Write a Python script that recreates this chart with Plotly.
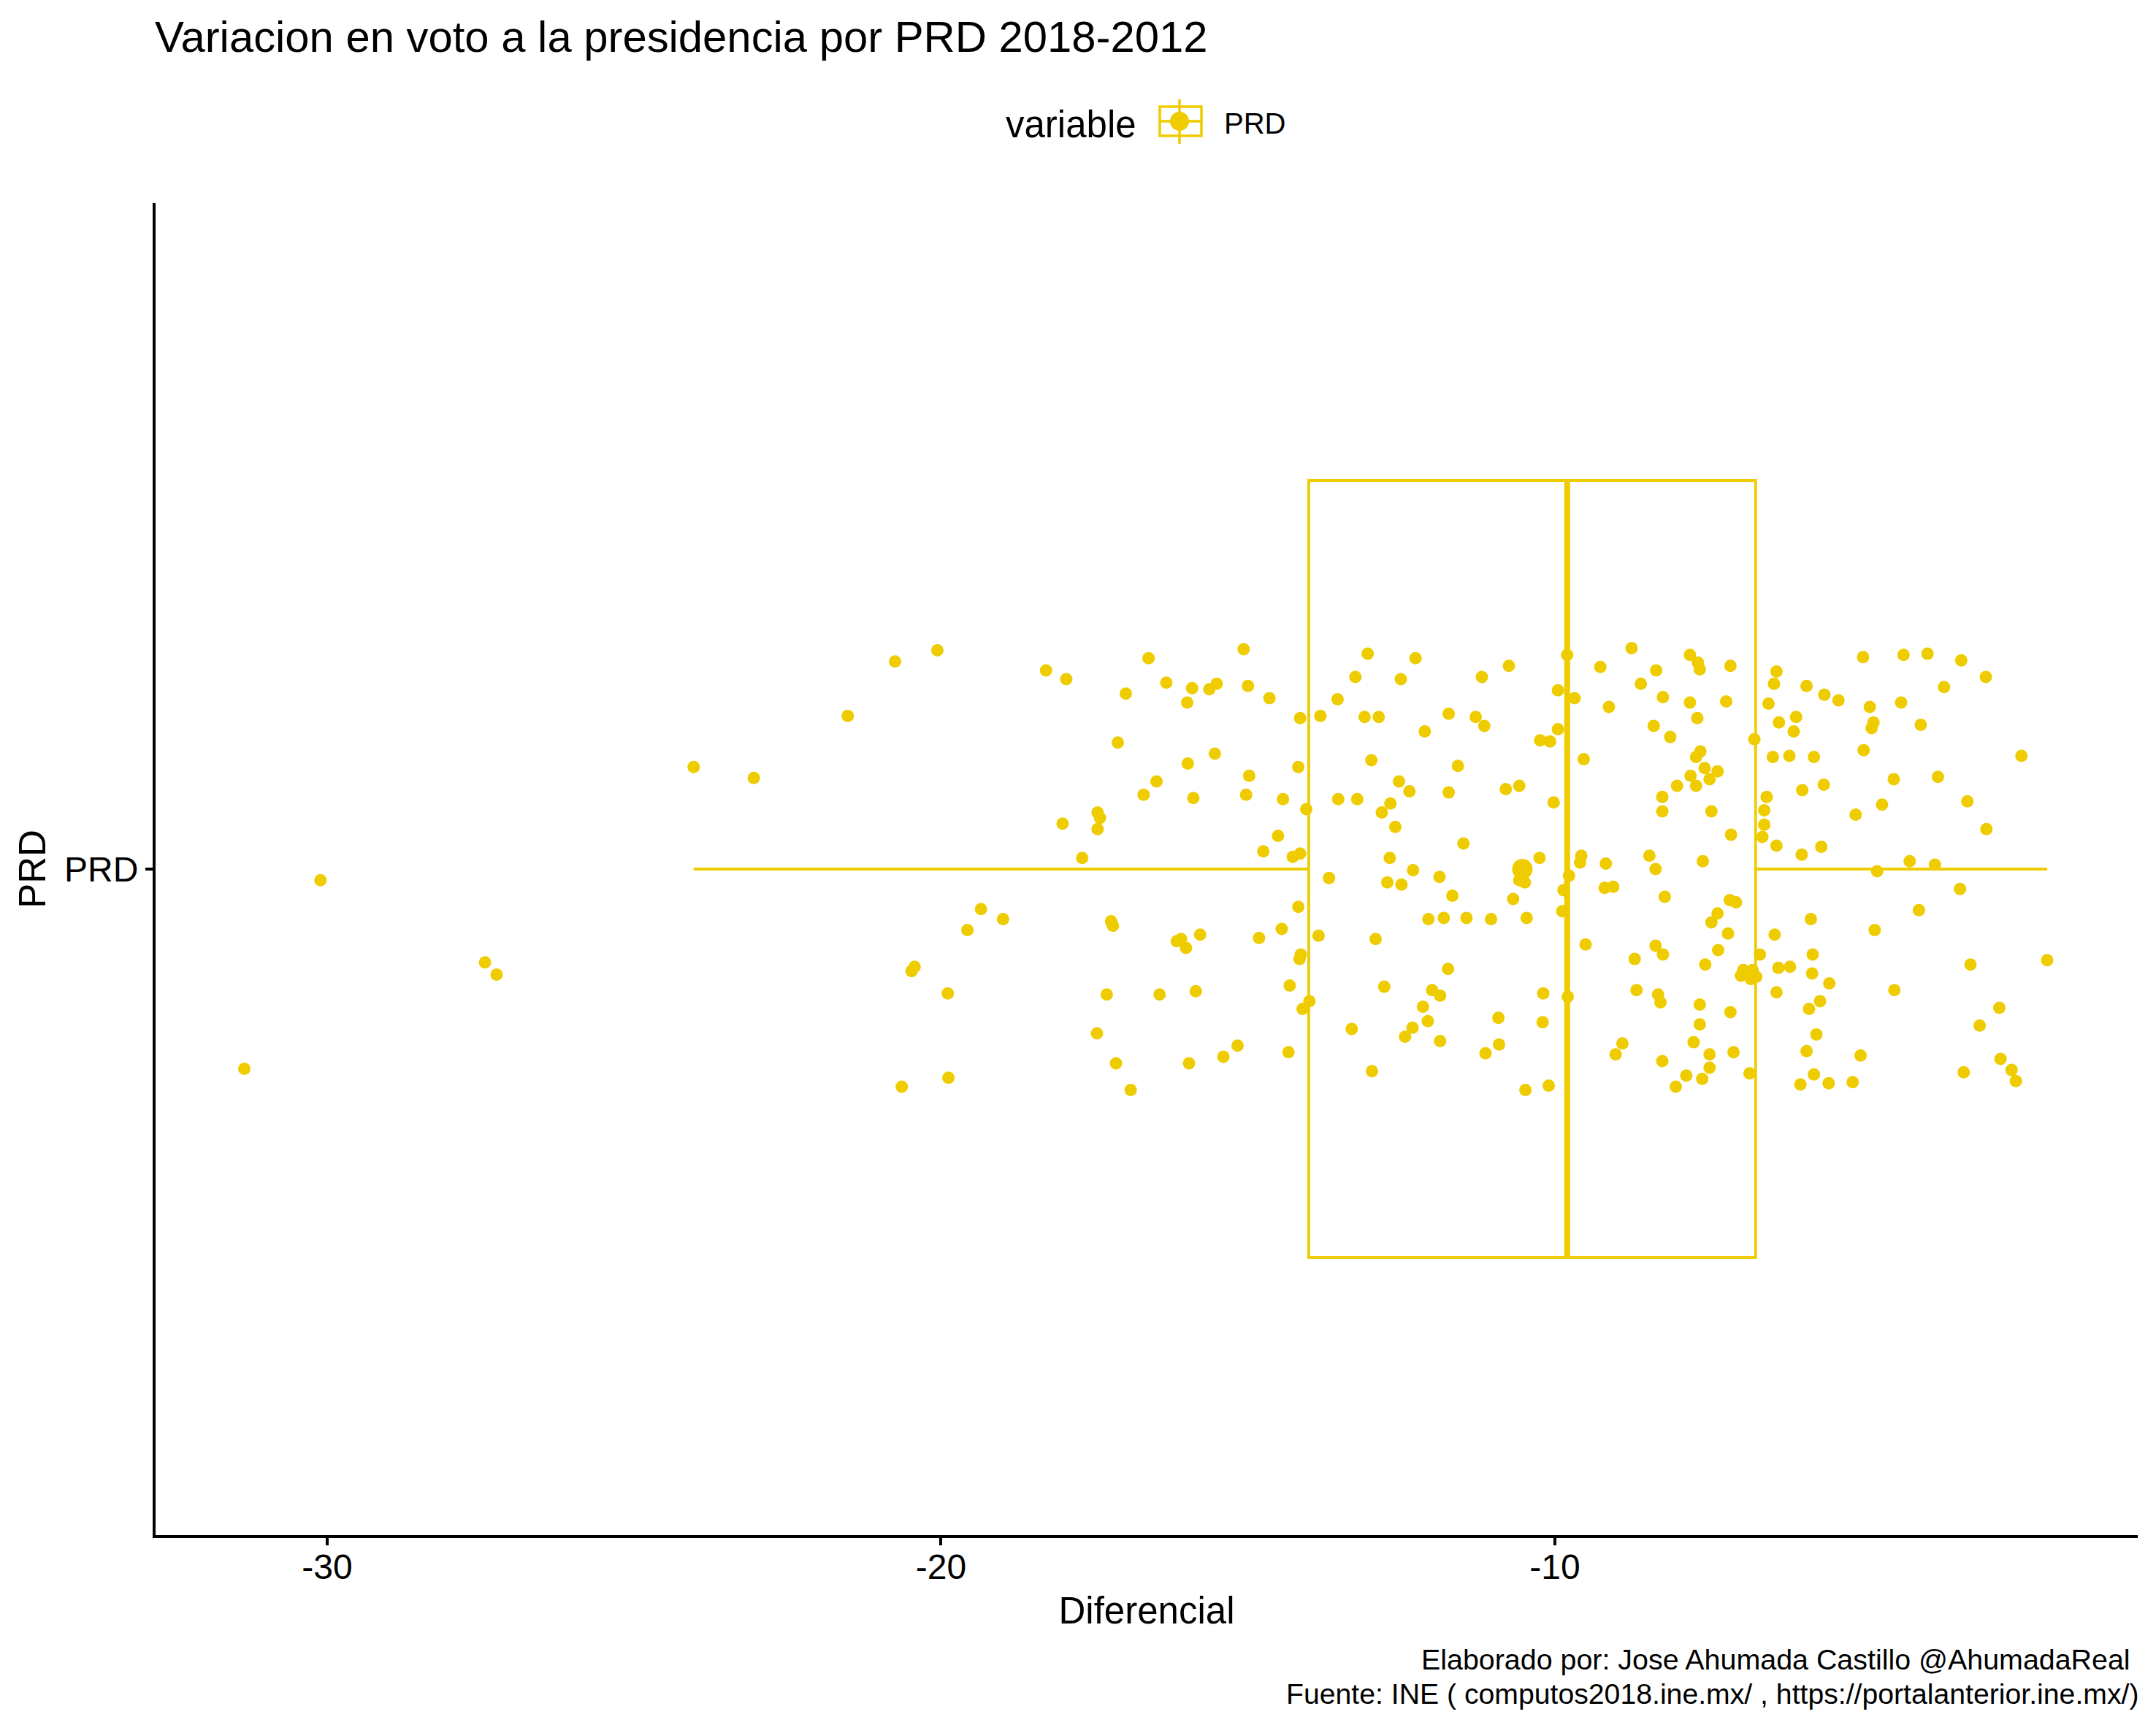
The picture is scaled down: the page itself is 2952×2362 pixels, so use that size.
import plotly.graph_objects as go

COLOR = "#EECC00"
TITLE = "Variacion en voto a la presidencia por PRD 2018-2012"
CAP1 = "Elaborado por: Jose Ahumada Castillo @AhumadaReal"
CAP2 = "Fuente: INE ( computos2018.ine.mx/ , https://portalanterior.ine.mx/)"

x_ticks = [-30, -20, -10]
x_tick_labels = ["-30", "-20", "-10"]
category = ["PRD"]

box_low, box_q1, box_median, box_q3, box_high = -24.03, -14.01, -9.80, -6.73, -1.98
mean_value = -10.53

diferencial = [
-20.75,-21.52,-24.03,-23.05,-30.11,-27.43,-27.24,-31.35,-20.64,
-20.06,-18.29,-17.96,-16.62,-15.07,-13.05,-12.27,-10.75,-16.33,-15.91,-15.63,-15.51,-15.00,-16.99,-15.99,-14.65,
-13.25,-12.51,-11.19,-13.54,-14.15,-13.82,-13.10,-12.87,-11.73,-11.29,-11.15,-12.12,-17.12,-15.54,-15.98,-14.18,
-12.99,-11.58,-14.98,-16.49,-12.54,-12.37,-11.73,-10.80,-10.58,-16.70,-15.89,-15.03,-14.43,-13.53,-13.22,-12.68,
-12.82,-14.05,-17.45,-17.41,-18.02,-17.45,-12.60,-14.51,-11.49,-14.75,-14.15,-14.27,-17.70,-12.69,-12.31,-13.68,
-11.88,-12.73,-12.50,-11.67,-10.68,-10.58,-10.49,-14.18,-19.35,-18.99,-19.57,-17.23,-17.20,-12.06,-11.81,-11.44,
-11.04,-10.46,-14.45,-16.16,-16.09,-16.01,-15.78,-14.82,-13.85,-12.92,-14.14,-14.16,-11.74,-20.43,-20.48,-19.89,
-17.30,-16.44,-15.85,-14.32,-12.78,-12.00,-11.87,-12.15,-14.00,-14.11,-12.07,-10.92,-13.31,-12.32,-12.44,-17.46,
-11.87,-10.91,-11.13,-15.17,-15.40,-14.34,-17.15,-15.96,-12.98,-19.88,-16.91,-10.48,
-8.75,-7.80,-7.67,-7.64,-7.14,-9.80,-9.26,-8.35,-6.39,-4.98,-4.32,-3.93,-3.38,-2.98,-3.66,-8.60,-6.43,-5.90,-9.95,
-9.68,-8.24,-5.61,-9.12,-7.80,-7.21,-6.52,-5.38,-4.87,-4.36,-7.68,-6.07,-8.39,-6.35,-4.81,-4.84,-4.04,-9.95,-6.11,
-10.24,-10.08,-8.12,-6.75,-7.63,-7.70,-9.53,-6.45,-6.18,-5.78,-4.97,-2.40,-7.56,-7.35,-7.79,-7.48,-8.01,-7.70,-4.48,
-3.76,-5.62,-5.97,-10.02,-8.25,-6.55,-3.28,-8.25,-7.45,-6.59,-4.67,-5.10,-6.59,-2.97,-7.13,-6.62,-6.39,-5.66,-5.98,
-10.25,-9.57,-9.59,-8.46,-9.17,-7.59,-4.22,-3.81,-4.75,-8.36,-9.77,-9.86,-9.19,-9.05,-8.21,-3.40,-7.15,-7.05,-9.88,
-7.35,-7.45,-5.83,-4.07,-4.79,-7.18,-6.42,-9.50,-8.36,-8.24,-7.34,-6.66,-5.80,-8.70,-7.55,-6.36,-6.17,-3.23,-1.98,
-6.93,-6.97,-6.78,-6.81,-6.72,-6.86,-5.81,-5.53,-6.39,-4.47,-8.67,-8.32,-8.28,-9.79,-10.19,-7.64,-5.68,-5.86,-7.14,
-2.76,-10.20,-7.64,-3.08,-5.74,-8.90,-7.74,-5.90,-9.01,-7.48,-7.09,-5.02,-2.74,-8.25,-7.48,-2.56,-3.34,-7.86,-7.60,
-6.83,-5.78,-6.00,-5.54,-5.15,-2.49,-8.03,-10.10,
]
jitter = [
.187,.138,.092,.082,-.010,-.084,-.095,-.180,-.196,
.197,.179,.171,.190,.198,.194,.190,.183,.168,.163,.162,.167,.165,.158,.150,.154,
.173,.171,.173,.153,.136,.138,.137,.137,.140,.137,.129,.124,.114,.104,.095,.092,
.098,.093,.084,.079,.079,.070,.069,.072,.075,.067,.064,.067,.063,.063,.063,.059,
.051,.054,.051,.046,.041,.036,.038,.030,.023,.016,.014,.011,.010,.010,-.001,-.008,
-.007,-.012,-.014,-.024,-.027,-.010,-.012,-.034,-.036,-.045,-.055,-.047,-.051,-.045,-.044,-.044,
-.045,-.044,-.054,-.065,-.063,-.071,-.059,-.062,-.060,-.063,-.077,-.081,-.090,-.088,-.092,-.112,
-.113,-.113,-.110,-.105,-.106,-.109,-.114,-.124,-.119,-.126,-.137,-.134,-.144,-.143,-.151,-.148,
-.155,-.158,-.166,-.159,-.169,-.165,-.175,-.175,-.182,-.188,-.199,-.199,
.199,.193,.186,.180,.183,.193,.182,.179,.178,.191,.193,.194,.188,.173,.164,.167,.167,.165,.161,
.154,.155,.157,.146,.150,.151,.149,.152,.146,.150,.136,.137,.129,.132,.132,.127,.130,.126,.124,
.116,.115,.119,.117,.106,.101,.099,.101,.102,.101,.107,.102,.091,.088,.084,.081,.075,.075,.081,
.083,.076,.071,.060,.065,.065,.061,.052,.052,.053,.058,.049,.040,.036,.031,.029,.021,.020,.013,
.010,.012,.006,.012,.005,.007,.007,.004,-.002,.000,-.006,-.019,-.017,-.016,-.025,-.018,-.028,-.030,-.038,
-.040,-.048,-.045,-.037,-.055,-.058,-.059,-.068,-.069,-.077,-.073,-.077,-.077,-.081,-.086,-.089,-.088,-.086,-.082,
-.091,-.096,-.091,-.099,-.097,-.095,-.094,-.103,-.111,-.109,-.109,-.113,-.120,-.115,-.112,-.122,-.119,-.126,-.129,
-.125,-.138,-.140,-.141,-.149,-.157,-.156,-.164,-.167,-.167,-.165,-.168,-.171,-.173,-.179,-.181,-.183,-.186,-.189,
-.184,-.185,-.194,-.193,-.192,-.191,-.196,-.195,
]

# the page adds an 8 px body margin round the figure
OFF = 8
W, H = 2952 - OFF, 2362 - OFF
L, R, T, B = 213 - OFF, 2927 - OFF, 278 - OFF, 2102 - OFF
def px(x): return (x - OFF - L) / (R - L)
def py(y): return (B - (y - OFF)) / (B - T)

fig = go.Figure()
fig.add_trace(go.Box(
    y=[1], q1=[box_q1], median=[box_median], q3=[box_q3],
    lowerfence=[box_low], upperfence=[box_high], orientation="h", width=0.7,
    line=dict(color=COLOR, width=3.8), fillcolor="rgba(0,0,0,0)",
    whiskerwidth=0, boxpoints=False, showlegend=False, name="PRD"))
fig.add_trace(go.Scatter(
    x=[box_median, box_median], y=[0.65, 1.35], mode="lines",
    line=dict(color=COLOR, width=8), showlegend=False, hoverinfo="skip"))
fig.add_trace(go.Scatter(
    x=diferencial, y=[1 + j for j in jitter], mode="markers",
    marker=dict(color=COLOR, size=17, line=dict(width=0)), showlegend=False, name="PRD"))
fig.add_trace(go.Scatter(
    x=[mean_value], y=[1], mode="markers",
    marker=dict(color=COLOR, size=28, line=dict(width=0)), showlegend=False, name="media"))

FONT = "Liberation Sans"
def text(s, x, y, size, xanchor="left", angle=0):
    fig.add_annotation(text=s, x=px(x), y=py(y), xref="paper", yref="paper", showarrow=False,
                       xanchor=xanchor, yanchor="middle", textangle=angle,
                       font=dict(family=FONT, size=size, color="black"))

text(TITLE, 210, 50, 59.8)
text("variable", 1375, 170, 51)
text("PRD", 1674, 169, 40)
text(CAP1, 2919, 2272, 39.4, "right")
text(CAP2, 2930, 2319, 39.2, "right")

# legend key
shapes = [
    dict(type="rect", x0=px(1588), x1=px(1645), y0=py(146), y1=py(186)),
    dict(type="line", x0=px(1588), x1=px(1645), y0=py(166), y1=py(166)),
    dict(type="line", x0=px(1615), x1=px(1615), y0=py(136), y1=py(197)),
]
for s in shapes:
    s.update(xref="paper", yref="paper", line=dict(color=COLOR, width=3.5))
shapes.append(dict(type="circle", xref="paper", yref="paper",
                   x0=px(1602), x1=px(1628), y0=py(153), y1=py(179),
                   fillcolor=COLOR, line=dict(color=COLOR, width=0)))

fig.update_layout(
    width=W, height=H, autosize=False,
    margin=dict(l=L, r=W - R, t=T, b=H - B, pad=0),
    paper_bgcolor="white", plot_bgcolor="white", showlegend=False, shapes=shapes,
    font=dict(family=FONT, color="black"),
    xaxis=dict(range=[-32.796, -0.505], tickvals=x_ticks, ticktext=x_tick_labels,
               showgrid=False, zeroline=False, showline=True, linecolor="black", linewidth=4,
               ticks="outside", ticklen=10, tickwidth=4, tickcolor="black", ticklabelstandoff=-12,
               tickfont=dict(family=FONT, size=48, color="black"),
               title=dict(text="Diferencial", font=dict(family=FONT, size=51, color="black"), standoff=18)),
    yaxis=dict(range=[0.4, 1.6], tickvals=[1], ticktext=category,
               showgrid=False, zeroline=False, showline=True, linecolor="black", linewidth=4,
               ticks="outside", ticklen=10, tickwidth=4, tickcolor="black",
               tickfont=dict(family=FONT, size=48, color="black"),
               title=dict(text="PRD", font=dict(family=FONT, size=51, color="black"), standoff=10)),
)
fig.write_html("out.html")
